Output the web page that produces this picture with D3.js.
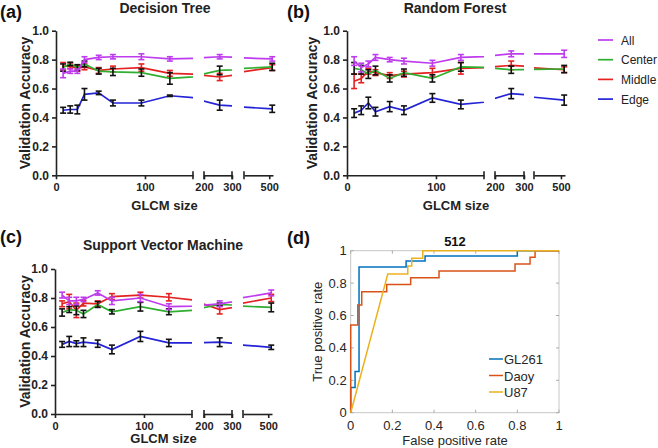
<!DOCTYPE html>
<html>
<head>
<meta charset="utf-8">
<script src="https://cdn.jsdelivr.net/npm/d3@7"></script>
<style>
  body { margin: 0; background: #fff; }
  svg { display: block; }
  text { font-family: "Liberation Sans", Arial, sans-serif; }
</style>
</head>
<body>
<svg id="chart" width="658" height="448"></svg>
<script>
// GLCM sizes (x values shared by panels a-c)
var sizes = [8, 16, 24, 32, 48, 64, 96, 128, 256, 512];
var seriesNames = ["All", "Center", "Middle", "Edge"];
var yTicks = [0, 0.2, 0.4, 0.6, 0.8, 1.0];
var xTicks = [[0, 100], [200, 300], [500]];

// (a) Decision Tree
var dtAll = [0.705, 0.72, 0.72, 0.80, 0.815, 0.82, 0.82, 0.805, 0.82, 0.805];
var dtAllErr = [0.03, 0.015, 0.015, 0.02, 0.015, 0.015, 0.02, 0.015, 0.015, 0.015];
var dtCenter = [0.745, 0.77, 0.745, 0.77, 0.72, 0.715, 0.71, 0.67, 0.725, 0.75];
var dtCenterErr = [0.025, 0.012, 0.02, 0.02, 0.02, 0.025, 0.025, 0.04, 0.03, 0.025];
var dtMiddle = [0.755, 0.755, 0.74, 0.75, 0.725, 0.735, 0.745, 0.705, 0.68, 0.745];
var dtMiddleErr = [0.025, 0.015, 0.02, 0.02, 0.02, 0.02, 0.025, 0.02, 0.025, 0.02];
var dtEdge = [0.45, 0.455, 0.455, 0.56, 0.57, 0.50, 0.50, 0.55, 0.485, 0.46];
var dtEdgeErr = [0.02, 0.025, 0.03, 0.04, 0.012, 0.02, 0.02, 0.005, 0.035, 0.025];

// (b) Random Forest
var rfAll = [0.79, 0.745, 0.77, 0.815, 0.80, 0.79, 0.775, 0.815, 0.84, 0.84];
var rfAllErr = [0.03, 0.03, 0.02, 0.02, 0.015, 0.02, 0.02, 0.02, 0.02, 0.025];
var rfCenter = [0.74, 0.73, 0.70, 0.725, 0.67, 0.71, 0.67, 0.75, 0.73, 0.735];
var rfCenterErr = [0.04, 0.03, 0.03, 0.03, 0.025, 0.025, 0.025, 0.03, 0.025, 0.025];
var rfMiddle = [0.65, 0.67, 0.72, 0.71, 0.69, 0.70, 0.71, 0.74, 0.76, 0.73];
var rfMiddleErr = [0.05, 0.03, 0.02, 0.02, 0.02, 0.02, 0.03, 0.04, 0.03, 0.02];
var rfEdge = [0.43, 0.45, 0.50, 0.44, 0.475, 0.45, 0.535, 0.49, 0.565, 0.52];
var rfEdgeErr = [0.03, 0.03, 0.04, 0.03, 0.035, 0.03, 0.03, 0.03, 0.035, 0.035];

// (c) Support Vector Machine
var svmAll = [0.82, 0.78, 0.78, 0.79, 0.835, 0.78, 0.80, 0.74, 0.76, 0.835];
var svmAllErr = [0.02, 0.025, 0.025, 0.015, 0.015, 0.025, 0.025, 0.02, 0.02, 0.02];
var svmCenter = [0.70, 0.72, 0.715, 0.69, 0.755, 0.705, 0.74, 0.705, 0.755, 0.735];
var svmCenterErr = [0.025, 0.02, 0.03, 0.025, 0.02, 0.015, 0.03, 0.02, 0.01, 0.03];
var svmMiddle = [0.76, 0.775, 0.715, 0.765, 0.76, 0.81, 0.82, 0.805, 0.72, 0.80];
var svmMiddleErr = [0.02, 0.05, 0.05, 0.02, 0.02, 0.02, 0.02, 0.025, 0.03, 0.025];
var svmEdge = [0.48, 0.50, 0.485, 0.495, 0.485, 0.445, 0.535, 0.49, 0.495, 0.46];
var svmEdgeErr = [0.02, 0.035, 0.02, 0.03, 0.025, 0.03, 0.035, 0.025, 0.03, 0.015];

// (d) ROC curves, GLCM size 512
var rocNames = ["GL261", "Daoy", "U87"];
var gl261Fpr = [0, 0, 0.021, 0.021, 0.04, 0.04, 0.266, 0.266, 0.357, 0.357, 0.80, 0.80, 1];
var gl261Tpr = [0, 0.155, 0.155, 0.255, 0.255, 0.90, 0.90, 0.936, 0.936, 0.967, 0.967, 1, 1];
var daoyFpr = [0, 0, 0.034, 0.034, 0.053, 0.053, 0.173, 0.173, 0.288, 0.288, 0.424, 0.424, 0.789, 0.789, 0.861, 0.861, 0.885, 0.885, 1];
var daoyTpr = [0, 0.541, 0.541, 0.665, 0.665, 0.747, 0.747, 0.792, 0.792, 0.833, 0.833, 0.874, 0.874, 0.918, 0.918, 0.959, 0.959, 1, 1];
var u87Fpr = [0, 0.178, 0.274, 0.274, 0.293, 0.293, 0.346, 0.346, 1];
var u87Tpr = [0, 0.856, 0.856, 0.905, 0.905, 0.953, 0.953, 1, 1];

var colors = { All: "#bf3cee", Center: "#2fae2f", Middle: "#e42222", Edge: "#2424d6" };
var errColors = { All: "#bf3cee", Center: "#111", Middle: "#e42222", Edge: "#111" };
var rocColors = ["#0072BD", "#D95319", "#EDB120"];

var svg = d3.select("#chart");
svg.append("rect").attr("width", 658).attr("height", 448).attr("fill", "#fff");
var defs = svg.append("defs");

// broken x axis: three linear pieces
var segDomains = [[0, 154], [200, 300], [400, 515]];

function glcmPanel(id, p, data) {
  var g = svg.append("g");
  var y = d3.scaleLinear().domain([0, 1]).range([p.yBot, p.yTop]);
  var xs = p.segs.map(function(r, i) {
    return d3.scaleLinear().domain(segDomains[i]).range(r);
  });

  // y axis
  var ya = g.append("g").attr("transform", "translate(" + p.segs[0][0] + ",0)")
    .call(d3.axisLeft(y).tickValues(yTicks).tickFormat(d3.format(".1f")).tickSize(4).tickSizeOuter(0).tickPadding(3));
  ya.selectAll("path, line").attr("stroke", "#222").attr("stroke-width", 1.6);
  ya.selectAll("text").attr("font-size", 12).attr("font-weight", "bold").attr("fill", "#222")
    .style("font-family", "'Liberation Sans', Arial, sans-serif");

  // x axis pieces
  xs.forEach(function(x, i) {
    var xa = g.append("g").attr("transform", "translate(0," + p.yBot + ")")
      .call(d3.axisBottom(x).tickValues(xTicks[i]).tickSize(4).tickSizeOuter(0).tickPadding(4));
    xa.selectAll("path, line").attr("stroke", "#222").attr("stroke-width", 1.6);
    xa.selectAll("text").attr("font-size", 11).attr("font-weight", "bold").attr("fill", "#222")
      .style("font-family", "'Liberation Sans', Arial, sans-serif");
    var r = x.range();
    var caps = i === 0 ? [r[1]] : (i === 1 ? [r[0], r[1]] : [r[0]]);
    caps.forEach(function(cx) {
      xa.append("line").attr("x1", cx).attr("x2", cx).attr("y1", -4).attr("y2", 4)
        .attr("stroke", "#222").attr("stroke-width", 1.6);
    });
  });

  // series
  var order = ["Edge", "Middle", "Center", "All"];
  xs.forEach(function(x, i) {
    var r = x.range();
    var cid = "clip-" + id + "-" + i;
    defs.append("clipPath").attr("id", cid).append("rect")
      .attr("x", r[0]).attr("y", p.yTop - 10).attr("width", r[1] - r[0]).attr("height", p.yBot - p.yTop + 20);
    var line = d3.line().x(function(d) { return x(d.x); }).y(function(d) { return y(d.v); });
    order.forEach(function(name) {
      var s = data[name];
      var pts = sizes.map(function(sz, k) { return { x: sz, v: s.vals[k], e: s.err[k] }; });
      g.append("path").datum(pts).attr("d", line).attr("clip-path", "url(#" + cid + ")")
        .attr("fill", "none").attr("stroke", colors[name]).attr("stroke-width", 1.7);
      var inSeg = pts.filter(function(d) { return d.x >= segDomains[i][0] && d.x <= segDomains[i][1]; });
      var eb = g.selectAll(null).data(inSeg).enter().append("g")
        .attr("stroke", errColors[name]).attr("stroke-width", 1.6);
      eb.append("line").attr("x1", function(d) { return x(d.x); }).attr("x2", function(d) { return x(d.x); })
        .attr("y1", function(d) { return y(d.v - d.e); }).attr("y2", function(d) { return y(d.v + d.e); });
      [-1, 1].forEach(function(sg) {
        eb.append("line").attr("x1", function(d) { return x(d.x) - 3; }).attr("x2", function(d) { return x(d.x) + 3; })
          .attr("y1", function(d) { return y(d.v + sg * d.e); }).attr("y2", function(d) { return y(d.v + sg * d.e); });
      });
    });
  });

  // labels
  g.append("text").attr("x", p.titleX).attr("y", p.titleY).attr("text-anchor", "middle")
    .attr("font-size", 14).attr("font-weight", "bold").attr("fill", "#222").text(p.title);
  g.append("text").attr("x", p.letterX).attr("y", p.letterY)
    .attr("font-size", 18).attr("font-weight", "bold").attr("fill", "#111").text(p.letter);
  g.append("text").attr("transform", "translate(" + p.ylabX + "," + ((p.yTop + p.yBot) / 2) + ") rotate(-90)")
    .attr("text-anchor", "middle").attr("font-size", 14).attr("font-weight", "bold").attr("fill", "#222")
    .text("Validation Accuracy");
  var mid = (p.segs[0][0] + p.segs[2][1]) / 2;
  g.append("text").attr("x", mid).attr("y", p.xlabY).attr("text-anchor", "middle")
    .attr("font-size", 13).attr("font-weight", "bold").attr("fill", "#222").text("GLCM size");
}

glcmPanel("a", {
  segs: [[56, 193], [204, 232], [244, 273]], yTop: 30.7, yBot: 175.3,
  title: "Decision Tree", titleX: 165, titleY: 13, letter: "(a)", letterX: 0, letterY: 18,
  ylabX: 30, xlabY: 210
}, {
  All: { vals: dtAll, err: dtAllErr }, Center: { vals: dtCenter, err: dtCenterErr },
  Middle: { vals: dtMiddle, err: dtMiddleErr }, Edge: { vals: dtEdge, err: dtEdgeErr }
});

glcmPanel("b", {
  segs: [[347, 484], [495, 524], [534, 565]], yTop: 30.7, yBot: 175.3,
  title: "Random Forest", titleX: 455, titleY: 13, letter: "(b)", letterX: 287, letterY: 18,
  ylabX: 317, xlabY: 210
}, {
  All: { vals: rfAll, err: rfAllErr }, Center: { vals: rfCenter, err: rfCenterErr },
  Middle: { vals: rfMiddle, err: rfMiddleErr }, Edge: { vals: rfEdge, err: rfEdgeErr }
});

glcmPanel("c", {
  segs: [[55, 192], [204, 232], [243, 272]], yTop: 269, yBot: 414,
  title: "Support Vector Machine", titleX: 163, titleY: 250, letter: "(c)", letterX: 0, letterY: 243,
  ylabX: 30, xlabY: 443
}, {
  All: { vals: svmAll, err: svmAllErr }, Center: { vals: svmCenter, err: svmCenterErr },
  Middle: { vals: svmMiddle, err: svmMiddleErr }, Edge: { vals: svmEdge, err: svmEdgeErr }
});

// legend for panels a-c
var lg = svg.append("g");
seriesNames.forEach(function(name, i) {
  var ly = 40 + i * 19.7;
  lg.append("line").attr("x1", 598).attr("x2", 613).attr("y1", ly).attr("y2", ly)
    .attr("stroke", colors[name]).attr("stroke-width", 1.7);
  lg.append("text").attr("x", 621).attr("y", ly + 4.5).attr("font-size", 12).attr("fill", "#222").text(name);
});

// (d) ROC panel
(function() {
  var g = svg.append("g");
  var x = d3.scaleLinear().domain([0, 1]).range([350.7, 559]);
  var y = d3.scaleLinear().domain([0, 1]).range([412.7, 250.7]);
  var ticks = [0, 0.2, 0.4, 0.6, 0.8, 1];
  var fmt = function(d) { return d === 0 || d === 1 ? String(d) : d3.format(".1f")(d); };

  g.append("rect").attr("x", x(0)).attr("y", y(1)).attr("width", x(1) - x(0)).attr("height", y(0) - y(1))
    .attr("fill", "#fff").attr("stroke", "#c6c6c6").attr("stroke-width", 1);
  ticks.forEach(function(t) {
    g.append("line").attr("x1", x(t)).attr("x2", x(t)).attr("y1", y(0)).attr("y2", y(0) - 3).attr("stroke", "#aaa");
    g.append("line").attr("x1", x(t)).attr("x2", x(t)).attr("y1", y(1)).attr("y2", y(1) + 3).attr("stroke", "#aaa");
    g.append("line").attr("x1", x(0)).attr("x2", x(0) + 3).attr("y1", y(t)).attr("y2", y(t)).attr("stroke", "#aaa");
    g.append("line").attr("x1", x(1)).attr("x2", x(1) - 3).attr("y1", y(t)).attr("y2", y(t)).attr("stroke", "#aaa");
    g.append("text").attr("x", x(t)).attr("y", y(0) + 17).attr("text-anchor", "middle")
      .attr("font-size", 13).attr("fill", "#262626").text(fmt(t));
    g.append("text").attr("x", x(0) - 4).attr("y", y(t) + 4.5).attr("text-anchor", "end")
      .attr("font-size", 13).attr("fill", "#262626").text(fmt(t));
  });

  var curves = [[gl261Fpr, gl261Tpr], [daoyFpr, daoyTpr], [u87Fpr, u87Tpr]];
  var line = d3.line().x(function(d) { return x(d[0]); }).y(function(d) { return y(d[1]); });
  curves.forEach(function(c, i) {
    var pts = c[0].map(function(f, k) { return [f, c[1][k]]; });
    g.append("path").datum(pts).attr("d", line).attr("fill", "none")
      .attr("stroke", rocColors[i]).attr("stroke-width", 1.5);
  });

  rocNames.forEach(function(name, i) {
    var ly = 359 + i * 16.5;
    g.append("line").attr("x1", 489).attr("x2", 503).attr("y1", ly).attr("y2", ly)
      .attr("stroke", rocColors[i]).attr("stroke-width", 1.5);
    g.append("text").attr("x", 504).attr("y", ly + 5).attr("font-size", 13).attr("fill", "#262626").text(name);
  });

  g.append("text").attr("x", 455).attr("y", 245.5).attr("text-anchor", "middle")
    .attr("font-size", 13).attr("font-weight", "bold").attr("fill", "#111").text("512");
  g.append("text").attr("x", 455).attr("y", 445).attr("text-anchor", "middle")
    .attr("font-size", 13).attr("fill", "#262626").text("False positive rate");
  g.append("text").attr("transform", "translate(322," + ((y(0) + y(1)) / 2) + ") rotate(-90)")
    .attr("text-anchor", "middle").attr("font-size", 13).attr("fill", "#262626").text("True positive rate");
  g.append("text").attr("x", 287).attr("y", 244)
    .attr("font-size", 18).attr("font-weight", "bold").attr("fill", "#111").text("(d)");
})();
</script>
</body>
</html>
